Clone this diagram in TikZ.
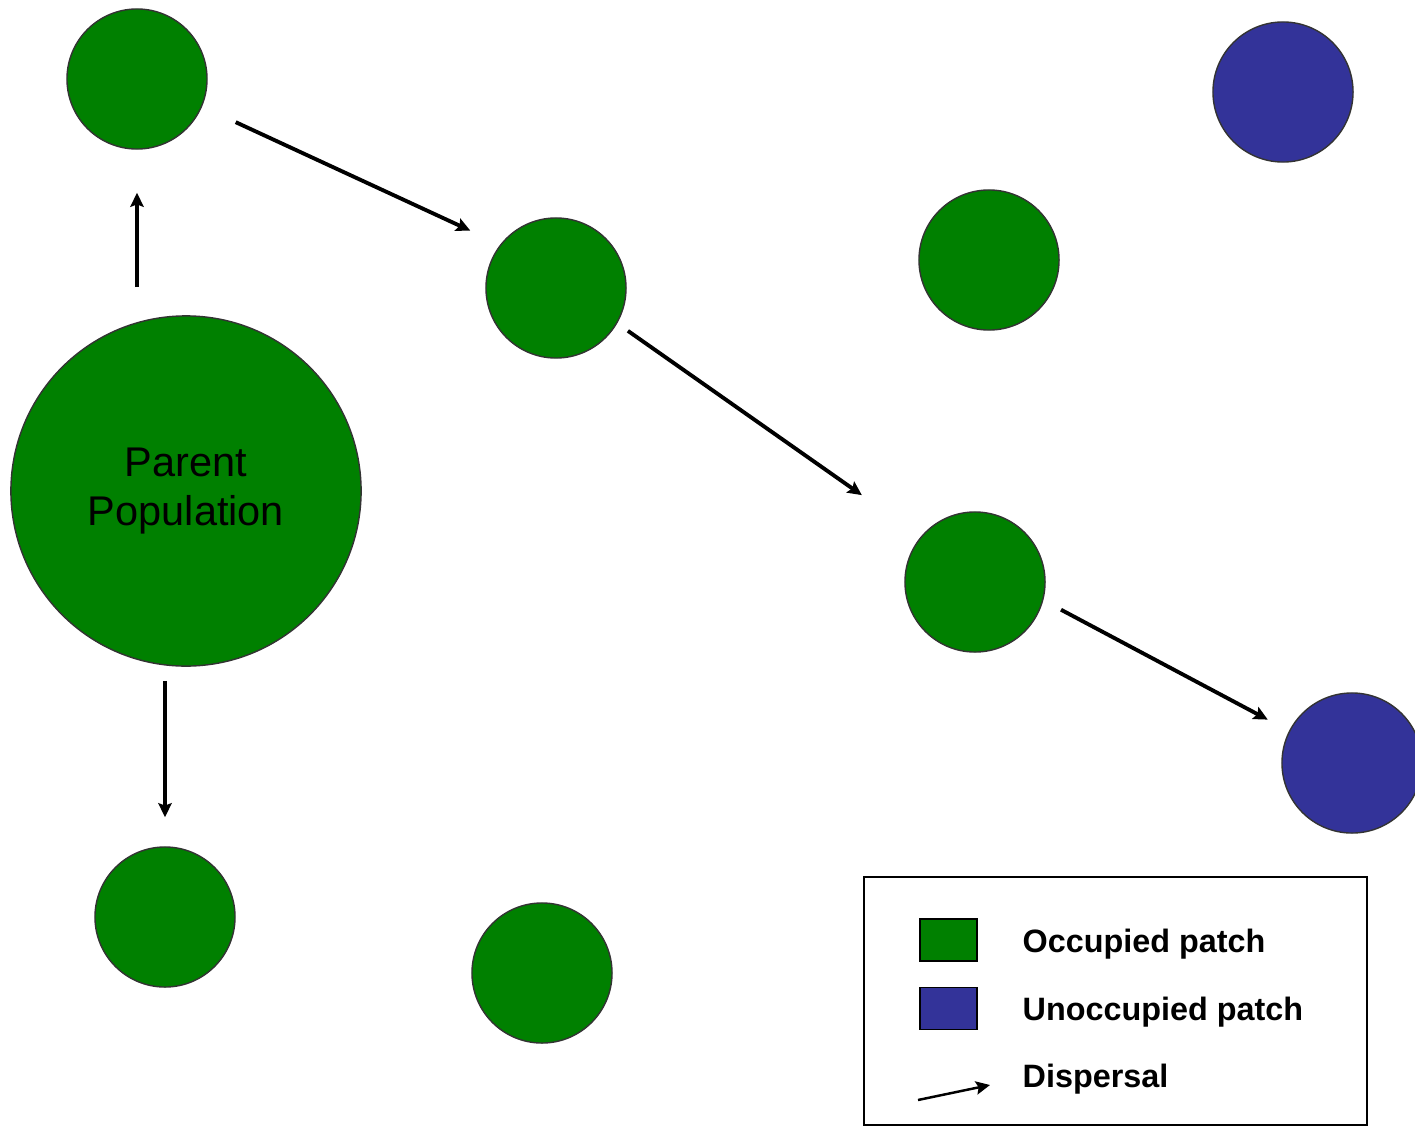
\documentclass[tikz,border=0pt]{standalone}
\usepackage{fontspec}
\setmainfont{Liberation Sans}
\usetikzlibrary{arrows.meta, positioning}
\definecolor{occgreen}{RGB}{0,128,0}
\definecolor{vacblue}{RGB}{51,51,153}

\begin{document}
\begin{tikzpicture}[x=0.01cm, y=-0.01cm]
            \tikzstyle{occpatch} = [draw=black!80, thin, circle, fill=occgreen, minimum size=1.4cm, inner sep=0pt]
            \tikzstyle{vacpatch} = [occpatch, fill=vacblue]
            \tikzstyle{disp} = [-{Stealth[length=4pt, width=3.8pt, inset=0.7pt]}, line width=1.1pt]
            \tikzstyle{keybox} = [draw, rectangle, minimum width=0.57cm, minimum height=0.42cm, inner sep=0pt]
            \tikzstyle{keytext} = [font=\fontsize{9.2}{11}\selectfont\bfseries, inner sep=0pt, anchor=base west]

            \useasboundingbox (0,0) rectangle (1415,1127);

            \node[occpatch, minimum size=3.5cm, font=\fontsize{11.8}{14.2}\selectfont, align=center] (parent) at (186,491) {Parent\\Population};
            \node[occpatch] (p1) at (137,79) {};
            \node[occpatch] (p2) at (556,288) {};
            \node[occpatch] (p3) at (989,260) {};
            \node[vacpatch] (p4) at (1283,92) {};
            \node[occpatch] (p5) at (975,582) {};
            \node[vacpatch] (p6) at (1352,763) {};
            \node[occpatch] (p7) at (165,917) {};
            \node[occpatch] (p8) at (542,973) {};

            % dispersal routes
            \draw[disp, shorten <=0.28cm, shorten >=0.43cm] (parent.north -| p1) -- (p1.south);
            \draw[disp, shorten <=0.14cm, shorten >=0.29cm] (parent.south -| p7) -- (p7.north);
            \draw[disp, shorten <=0.37cm, shorten >=0.33cm] (p1.-23) -- (p2.142);
            \draw[disp, shorten <=0.13cm, shorten >=0.72cm] (p2.-30) -- (p5.140);
            \draw[disp, shorten <=0.20cm, shorten >=0.24cm] (p5.-15) -- (p6.153);

            % legend
            \draw[line width=0.6pt] (864,877) rectangle (1367,1125);
            \node[keybox, fill=occgreen] (keyocc) at (948.5,940) {};
            \node[keybox, fill=vacblue] (keyvac) at (948.5,1008.5) {};
            \coordinate (keyfrom) at (918,1100);
            \coordinate (keyto) at (990,1085);
            \draw[disp, line width=0.7pt] (keyfrom) -- (keyto);
            \node[keytext] (txtocc) at (1022,952) {Occupied patch};
            \node[keytext] (txtvac) at (1022,1020) {Unoccupied patch};
            \node[keytext] (txtdisp) at (1022,1087) {Dispersal};
        \end{tikzpicture}
\end{document}
